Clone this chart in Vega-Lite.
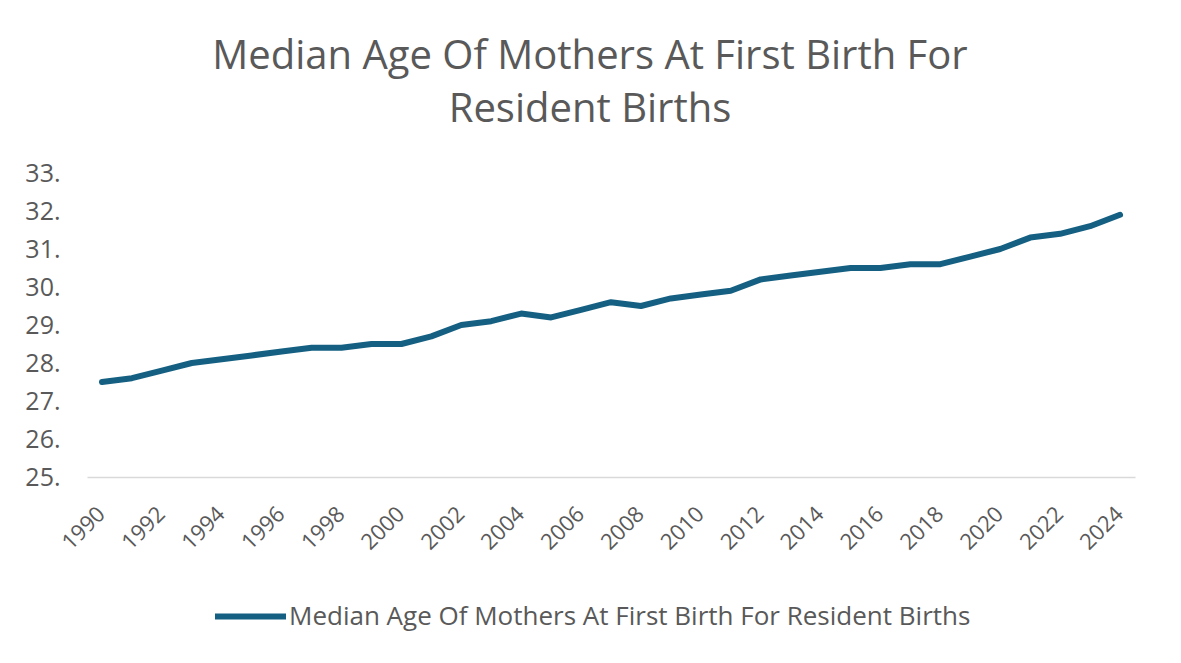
{
  "$schema": "https://vega.github.io/schema/vega-lite/v6.json",
  "width": 1048,
  "height": 304,
  "autosize": "none",
  "padding": {"left": 87, "top": 173, "right": 46, "bottom": 186},
  "background": "white",
  "title": {
    "text": ["Median Age Of Mothers At First Birth For", "Resident Births"],
    "font": "Open Sans",
    "fontSize": 40,
    "fontWeight": "normal",
    "color": "#595959",
    "lineHeight": 53,
    "anchor": "middle",
    "dx": -21,
    "offset": 31
  },
  "data": {
    "values": [
      {"year": 1990, "age": 27.5}, {"year": 1991, "age": 27.6}, {"year": 1992, "age": 27.8},
      {"year": 1993, "age": 28.0}, {"year": 1994, "age": 28.1}, {"year": 1995, "age": 28.2},
      {"year": 1996, "age": 28.3}, {"year": 1997, "age": 28.4}, {"year": 1998, "age": 28.4},
      {"year": 1999, "age": 28.5}, {"year": 2000, "age": 28.5}, {"year": 2001, "age": 28.7},
      {"year": 2002, "age": 29.0}, {"year": 2003, "age": 29.1}, {"year": 2004, "age": 29.3},
      {"year": 2005, "age": 29.2}, {"year": 2006, "age": 29.4}, {"year": 2007, "age": 29.6},
      {"year": 2008, "age": 29.5}, {"year": 2009, "age": 29.7}, {"year": 2010, "age": 29.8},
      {"year": 2011, "age": 29.9}, {"year": 2012, "age": 30.2}, {"year": 2013, "age": 30.3},
      {"year": 2014, "age": 30.4}, {"year": 2015, "age": 30.5}, {"year": 2016, "age": 30.5},
      {"year": 2017, "age": 30.6}, {"year": 2018, "age": 30.6}, {"year": 2019, "age": 30.8},
      {"year": 2020, "age": 31.0}, {"year": 2021, "age": 31.3}, {"year": 2022, "age": 31.4},
      {"year": 2023, "age": 31.6}, {"year": 2024, "age": 31.9}
    ]
  },
  "transform": [{"calculate": "'Median Age Of Mothers At First Birth For Resident Births'", "as": "series"}],
  "mark": {"type": "line", "strokeWidth": 6, "strokeCap": "round", "strokeJoin": "round"},
  "encoding": {
    "x": {
      "field": "year",
      "type": "quantitative",
      "scale": {"domain": [1989.5, 2024.5], "nice": false, "zero": false},
      "axis": {
        "title": null,
        "values": [1990, 1992, 1994, 1996, 1998, 2000, 2002, 2004, 2006, 2008, 2010, 2012, 2014, 2016, 2018, 2020, 2022, 2024],
        "format": "d",
        "labelAngle": -45,
        "labelFont": "Open Sans",
        "labelFontSize": 22,
        "labelColor": "#595959",
        "labelPadding": 26,
        "labelOffset": -8,
        "ticks": false,
        "grid": false,
        "domainColor": "#d9d9d9",
        "domainWidth": 1.5,
        "labelFlush": false,
        "labelOverlap": false
      }
    },
    "y": {
      "field": "age",
      "type": "quantitative",
      "scale": {"domain": [25, 33], "nice": false, "zero": false},
      "axis": {
        "title": null,
        "values": [25, 26, 27, 28, 29, 30, 31, 32, 33],
        "labelExpr": "format(datum.value, '.0f') + '.'",
        "labelFont": "Open Sans",
        "labelFontSize": 25,
        "labelColor": "#595959",
        "labelPadding": 27,
        "ticks": false,
        "domain": false,
        "grid": false
      }
    },
    "color": {
      "field": "series",
      "type": "nominal",
      "scale": {"range": ["#156082"]},
      "legend": {
        "title": null,
        "orient": "none",
        "legendX": 125,
        "legendY": 405,
        "symbolType": "stroke",
        "symbolSize": 5041,
        "symbolStrokeWidth": 6,
        "labelOffset": 0,
        "labelFont": "Open Sans",
        "labelFontSize": 26,
        "labelColor": "#595959",
        "labelLimit": 0
      }
    }
  },
  "config": {"view": {"stroke": null}}
}
